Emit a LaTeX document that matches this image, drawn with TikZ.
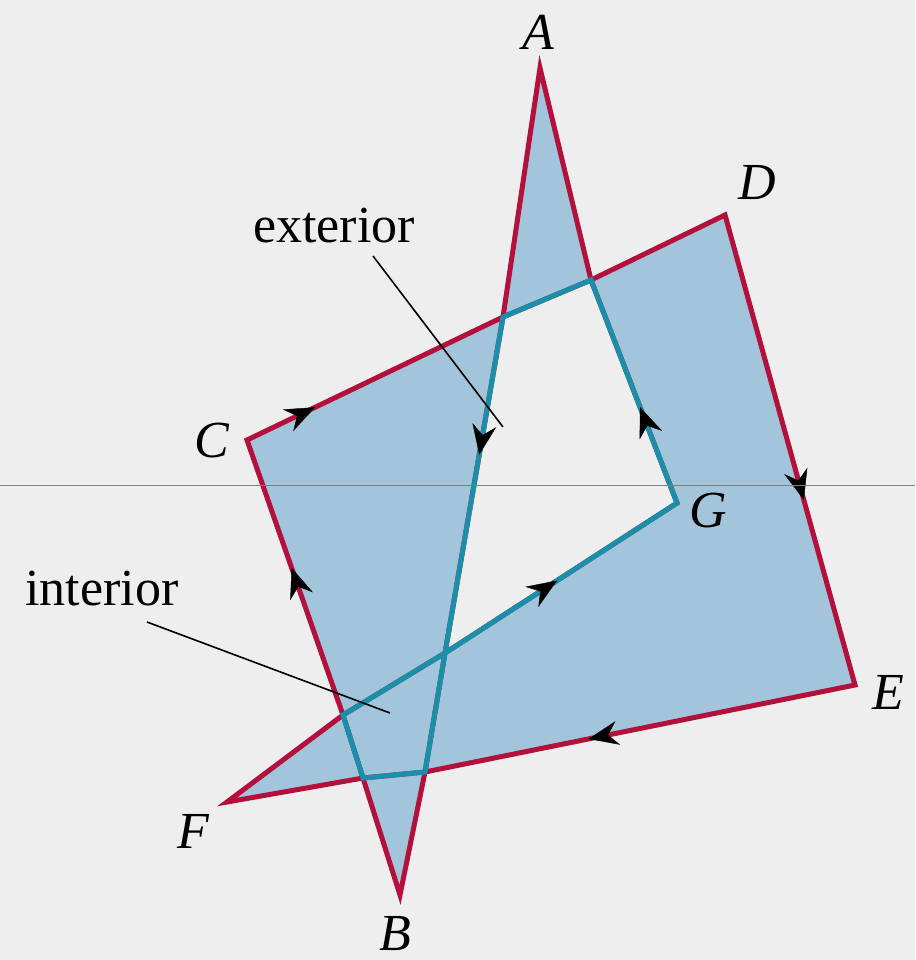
\documentclass[tikz,border=0pt]{standalone}
\usepackage{fontspec}
\setmainfont{Liberation Serif}
\usetikzlibrary{arrows.meta,decorations.markings}
\definecolor{bgc}{HTML}{EEEEEE}
\definecolor{fillc}{HTML}{A2C5DB}
\definecolor{redc}{HTML}{B3103C}
\definecolor{tealc}{HTML}{1A8FAA}
\tikzset{
  redline/.style={draw=redc, line width=5pt, line join=miter, miter limit=20},
  tealline/.style={draw=tealc, line width=5pt, line join=miter, miter limit=20},
  leader/.style={draw=black, line width=1.6pt},
  vlabel/.style={font=\fontsize{52}{60}\selectfont\itshape, anchor=base, inner sep=0pt},
  wlabel/.style={font=\fontsize{52}{60}\selectfont, anchor=base, inner sep=0pt},
  tipmark/.style={postaction={decorate}, decoration={markings,
    mark=at position #1 with {\arrow[black]{Stealth[length=30pt,width=24pt,inset=10pt]}}}}
}
\begin{document}
\begin{tikzpicture}[x=1pt,y=-1pt]
\fill[bgc] (0,0) rectangle (915,960);
\useasboundingbox (0,0) rectangle (915,960);
% vertices
\coordinate (A) at (540,68);
\coordinate (B) at (400,895);
\coordinate (C) at (247,440);
\coordinate (D) at (725,215);
\coordinate (E) at (855,685);
\coordinate (F) at (227,802);
\coordinate (G) at (677,503);
% crossings of the edges
\coordinate (P1) at (503,317); % AB x CD
\coordinate (P2) at (591,280); % GA x CD
\coordinate (P3) at (343,715); % FG x BC
\coordinate (P4) at (363,778); % BC x EF
\coordinate (P5) at (425,772); % AB x EF
\coordinate (P6) at (445,653); % AB x FG
% filled polygon (nonzero rule)
\fill[fillc, nonzero rule] (A) -- (P1) -- (P6) -- (P5) -- (B) -- (P4) -- (P3) -- (C)
  -- (P1) -- (P2) -- (D) -- (E) -- (P5) -- (P4) -- (F) -- (P3) -- (P6) -- (G) -- (P2) -- cycle;
% outer boundary
\draw[redline] (A) -- (P1) -- (P6) -- (P5) -- (B) -- (P4) -- (P3) -- (C)
  -- (P1) -- (P2) -- (D) -- (E) -- (P5) -- (P4) -- (F) -- (P3) -- (P6) -- (G) -- (P2) -- cycle;
% inner boundary
\draw[tealline] (P1) -- (P6) -- (P5) -- (P4) -- (P3) -- (P6) -- (G) -- (P2) -- cycle;
% direction arrows
\path[tipmark=0.41] (P1) -- (P6);
\path[tipmark=0.535] (P3) -- (C);
\path[tipmark=0.266] (C) -- (P1);
\path[tipmark=0.606] (D) -- (E);
\path[tipmark=0.62] (E) -- (P5);
\path[tipmark=0.483] (P6) -- (G);
\path[tipmark=0.43] (G) -- (P2);
% labels
\node[vlabel] (lA) at (538,50) {A};
\node[vlabel] (lB) at (395,950) {B};
\node[vlabel] (lC) at (212,457) {C};
\node[vlabel] (lD) at (757,200) {D};
\node[vlabel] (lE) at (888,709) {E};
\node[vlabel] (lF) at (193,848) {F};
\node[vlabel] (lG) at (708,527) {G};
\node[wlabel] (ext) at (334,242) {exterior};
\node[wlabel] (int) at (102,605) {interior};
\coordinate (ext1) at (373,256);
\coordinate (ext2) at (503,427);
\coordinate (int1) at (147,622);
\coordinate (int2) at (390,713);
\draw[leader] (ext1) -- (ext2);
\draw[leader] (int1) -- (int2);
% thin horizontal line across the picture
\coordinate (h1) at (0,485);
\coordinate (h2) at (915,485);
\draw[draw=black!50, line width=1pt] (h1) -- (h2);
\end{tikzpicture}
\end{document}
